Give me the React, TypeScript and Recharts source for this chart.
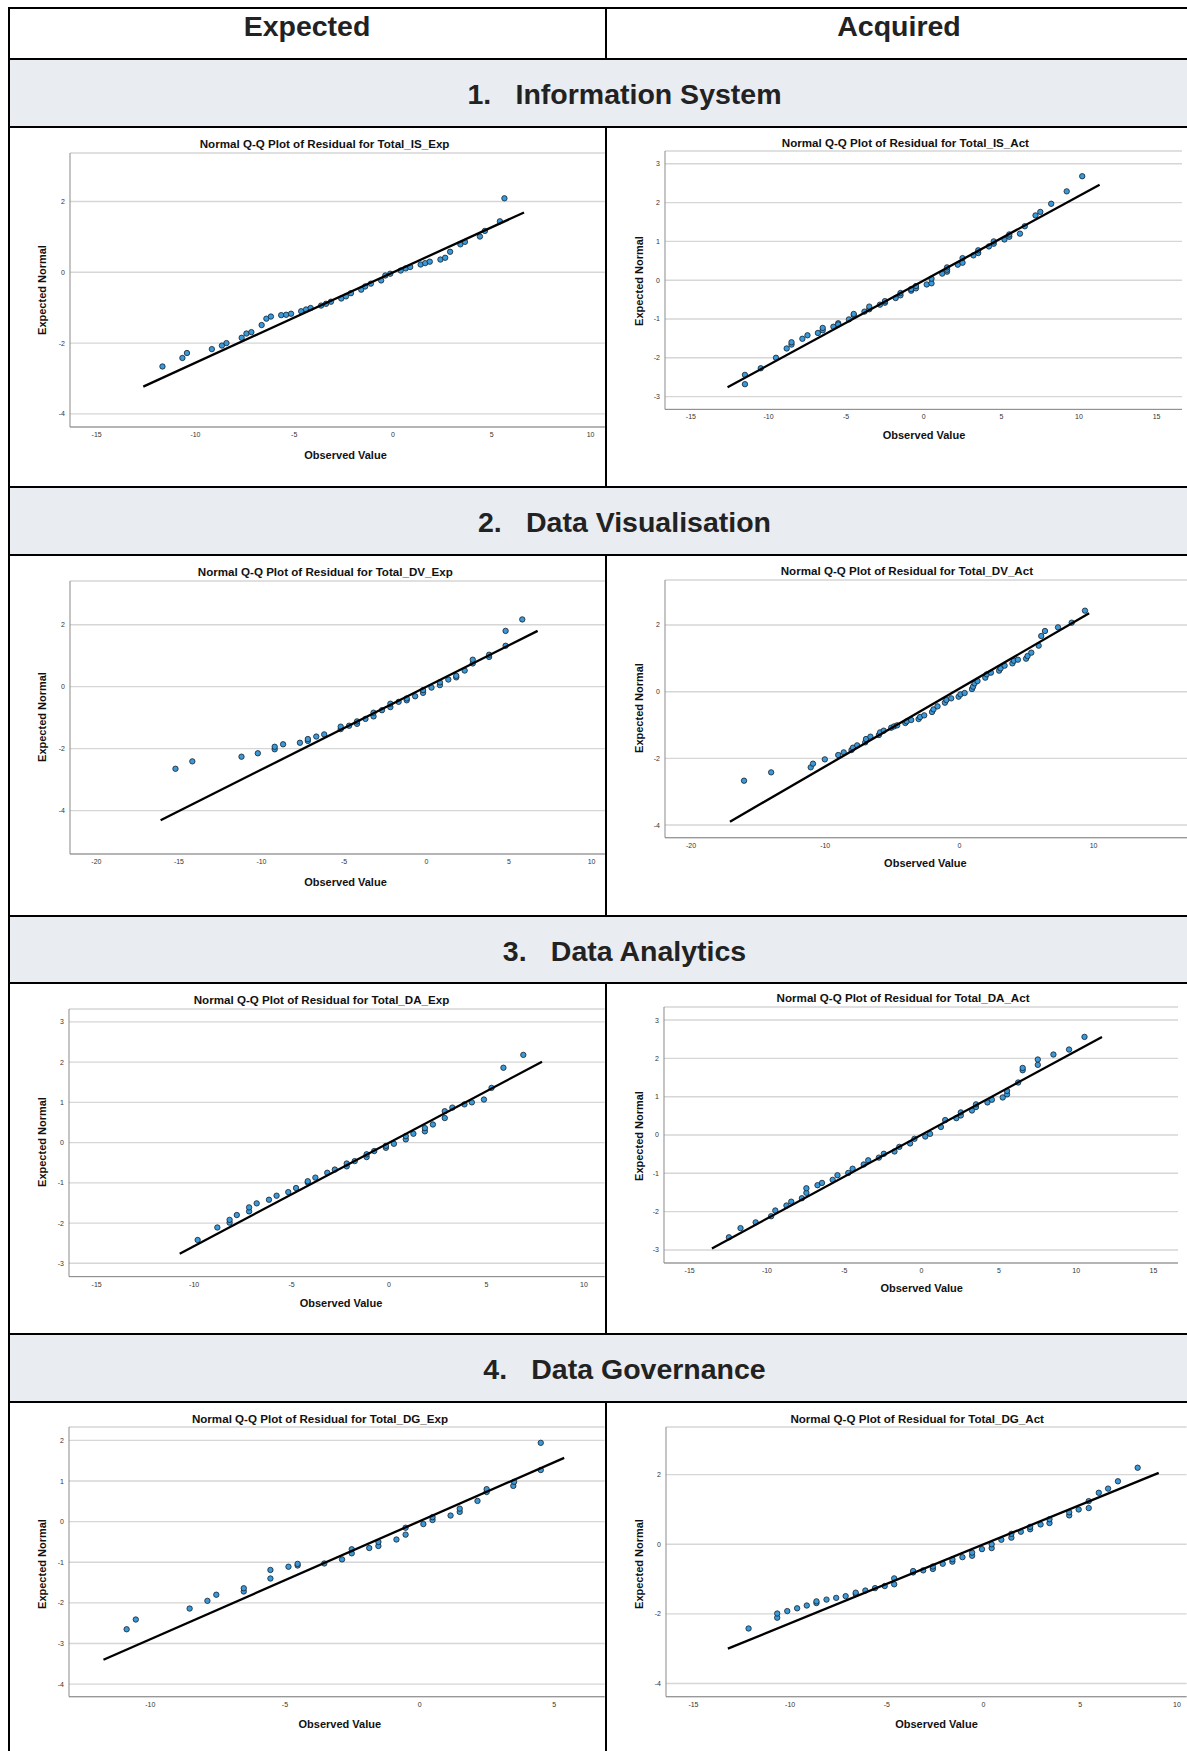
import React from "react";
import { ScatterChart, Scatter, XAxis, YAxis, CartesianGrid } from "recharts";

type Pt = [number, number];

const isExpPoints: Pt[] = [
  [-11.67, -2.66], [-10.66, -2.42], [-10.43, -2.28], [-9.17, -2.17], [-8.66, -2.07], [-8.43, -2.0],
  [-7.66, -1.85], [-7.42, -1.73], [-7.17, -1.69], [-6.65, -1.49], [-6.41, -1.31], [-6.18, -1.25],
  [-5.66, -1.21], [-5.41, -1.2], [-5.16, -1.17], [-4.65, -1.1], [-4.4, -1.05], [-4.17, -1.01],
  [-3.64, -0.94], [-3.39, -0.89], [-3.14, -0.83], [-2.62, -0.74], [-2.38, -0.68], [-2.13, -0.59],
  [-1.61, -0.49], [-1.41, -0.4], [-1.12, -0.32], [-0.6, -0.23], [-0.39, -0.09], [-0.14, -0.04],
  [0.39, 0.05], [0.64, 0.11], [0.87, 0.15], [1.4, 0.22], [1.63, 0.26], [1.86, 0.3],
  [2.4, 0.36], [2.64, 0.41], [2.89, 0.58], [3.41, 0.79], [3.64, 0.86], [4.4, 1.01],
  [4.65, 1.17], [5.41, 1.44], [5.64, 2.09],
];
const isExpFit: Pt[] = [[-12.64, -3.23], [6.63, 1.69]];

const isActPoints: Pt[] = [
  [-11.52, -2.44], [-11.52, -2.68], [-10.5, -2.27], [-9.52, -2.0], [-8.83, -1.76], [-8.52, -1.66],
  [-8.52, -1.6], [-7.82, -1.51], [-7.49, -1.42], [-6.82, -1.36], [-6.51, -1.29], [-6.51, -1.23],
  [-5.82, -1.2], [-5.51, -1.11], [-5.51, -1.14], [-4.82, -1.01], [-4.51, -0.9], [-4.51, -0.87],
  [-3.82, -0.81], [-3.51, -0.75], [-3.51, -0.68], [-2.82, -0.63], [-2.5, -0.58], [-2.5, -0.54],
  [-1.81, -0.46], [-1.5, -0.39], [-1.5, -0.33], [-0.81, -0.27], [-0.81, -0.23], [-0.5, -0.21],
  [-0.5, -0.15], [0.19, -0.11], [0.5, -0.08], [0.5, 0.04], [1.19, 0.17], [1.5, 0.22],
  [1.5, 0.27], [1.5, 0.33], [2.19, 0.4], [2.5, 0.45], [2.5, 0.57], [3.2, 0.64],
  [3.51, 0.7], [3.51, 0.77], [4.2, 0.87], [4.51, 0.94], [4.51, 1.0], [5.2, 1.05],
  [5.51, 1.12], [5.51, 1.18], [6.2, 1.2], [6.51, 1.39], [7.2, 1.67], [7.51, 1.76],
  [8.21, 1.97], [9.21, 2.29], [10.21, 2.68],
];
const isActFit: Pt[] = [[-12.64, -2.76], [11.33, 2.46]];

const dvExpPoints: Pt[] = [
  [-15.21, -2.65], [-14.19, -2.41], [-11.21, -2.26], [-10.22, -2.15], [-9.2, -2.02], [-9.2, -1.94],
  [-8.69, -1.86], [-7.67, -1.81], [-7.19, -1.75], [-7.19, -1.69], [-6.68, -1.61], [-6.2, -1.54],
  [-5.2, -1.37], [-5.2, -1.29], [-4.69, -1.26], [-4.21, -1.2], [-4.21, -1.12], [-3.7, -1.04],
  [-3.21, -0.96], [-3.21, -0.84], [-2.7, -0.76], [-2.19, -0.66], [-2.19, -0.55], [-1.69, -0.49],
  [-1.2, -0.44], [-1.2, -0.38], [-0.69, -0.31], [-0.21, -0.2], [-0.21, -0.11], [0.3, -0.03],
  [0.81, 0.05], [0.81, 0.14], [1.32, 0.23], [1.8, 0.3], [1.8, 0.35], [2.31, 0.52],
  [2.8, 0.75], [2.8, 0.87], [3.79, 0.96], [3.79, 1.03], [4.79, 1.32], [4.79, 1.8],
  [5.8, 2.17],
];
const dvExpFit: Pt[] = [[-16.11, -4.31], [6.73, 1.8]];

const dvActPoints: Pt[] = [
  [-16.05, -2.67], [-14.03, -2.42], [-11.08, -2.27], [-10.91, -2.16], [-10.03, -2.03], [-9.03, -1.9],
  [-8.62, -1.82], [-8.04, -1.75], [-7.93, -1.68], [-7.62, -1.61], [-7.02, -1.52], [-6.96, -1.42],
  [-6.63, -1.35], [-6.0, -1.3], [-5.91, -1.22], [-5.64, -1.17], [-5.08, -1.08], [-4.86, -1.04],
  [-4.64, -1.01], [-4.03, -0.94], [-3.92, -0.89], [-3.59, -0.85], [-3.04, -0.82], [-2.93, -0.76],
  [-2.62, -0.71], [-2.04, -0.61], [-1.93, -0.53], [-1.63, -0.44], [-1.08, -0.33], [-0.97, -0.25],
  [-0.61, -0.2], [-0.06, -0.15], [0.08, -0.08], [0.39, -0.04], [0.94, 0.08], [1.02, 0.15],
  [1.13, 0.25], [1.35, 0.32], [1.93, 0.42], [2.04, 0.52], [2.35, 0.57], [2.96, 0.63],
  [3.07, 0.7], [3.37, 0.78], [3.95, 0.85], [4.06, 0.93], [4.36, 0.96], [4.97, 0.99],
  [5.08, 1.07], [5.36, 1.17], [5.91, 1.38], [6.1, 1.67], [6.38, 1.82], [7.35, 1.93],
  [8.37, 2.07], [9.36, 2.43],
];
const dvActFit: Pt[] = [[-17.1, -3.9], [9.67, 2.35]];

const daExpPoints: Pt[] = [
  [-9.82, -2.42], [-8.81, -2.11], [-8.18, -1.99], [-8.18, -1.92], [-7.81, -1.8], [-7.18, -1.71],
  [-7.18, -1.61], [-6.79, -1.51], [-6.16, -1.42], [-5.77, -1.32], [-5.17, -1.23], [-4.77, -1.13],
  [-4.17, -0.99], [-4.17, -0.96], [-3.78, -0.87], [-3.17, -0.75], [-2.78, -0.67], [-2.17, -0.59],
  [-2.17, -0.52], [-1.76, -0.46], [-1.15, -0.36], [-1.15, -0.29], [-0.76, -0.21], [-0.16, -0.13],
  [-0.16, -0.08], [0.25, -0.03], [0.86, 0.08], [0.86, 0.16], [1.25, 0.22], [1.84, 0.28],
  [1.84, 0.36], [2.25, 0.45], [2.86, 0.61], [2.86, 0.78], [3.25, 0.87], [3.87, 0.95],
  [4.25, 1.0], [4.87, 1.07], [5.26, 1.36], [5.87, 1.86], [6.89, 2.18],
];
const daExpFit: Pt[] = [[-10.74, -2.76], [7.85, 2.01]];

const daActPoints: Pt[] = [
  [-12.46, -2.67], [-11.71, -2.43], [-10.73, -2.28], [-9.73, -2.12], [-9.46, -1.97], [-8.74, -1.84],
  [-8.43, -1.74], [-7.74, -1.65], [-7.45, -1.51], [-7.45, -1.39], [-6.73, -1.31], [-6.44, -1.25],
  [-5.75, -1.17], [-5.44, -1.05], [-4.74, -0.99], [-4.46, -0.88], [-3.74, -0.77], [-3.45, -0.66],
  [-2.76, -0.59], [-2.44, -0.49], [-1.75, -0.43], [-1.44, -0.31], [-0.74, -0.22], [-0.46, -0.1],
  [0.24, -0.04], [0.55, 0.03], [1.25, 0.21], [1.53, 0.39], [2.25, 0.44], [2.54, 0.51],
  [2.54, 0.59], [3.26, 0.64], [3.52, 0.73], [3.52, 0.8], [4.26, 0.85], [4.55, 0.92],
  [5.25, 0.98], [5.53, 1.06], [5.53, 1.15], [6.25, 1.37], [6.54, 1.69], [6.54, 1.75],
  [7.52, 1.83], [7.52, 1.97], [8.53, 2.1], [9.54, 2.23], [10.54, 2.56],
];
const daActFit: Pt[] = [[-13.56, -2.96], [11.67, 2.56]];

const dgExpPoints: Pt[] = [
  [-10.88, -2.65], [-10.54, -2.41], [-8.54, -2.14], [-7.88, -1.95], [-7.55, -1.8], [-6.53, -1.72],
  [-6.53, -1.64], [-5.54, -1.4], [-5.54, -1.19], [-4.87, -1.11], [-4.53, -1.08], [-4.53, -1.04],
  [-3.54, -1.03], [-2.88, -0.93], [-2.52, -0.78], [-2.52, -0.68], [-1.87, -0.65], [-1.53, -0.6],
  [-1.53, -0.5], [-0.86, -0.44], [-0.52, -0.32], [-0.52, -0.15], [0.14, -0.06], [0.48, 0.04],
  [0.48, 0.11], [1.15, 0.15], [1.49, 0.24], [1.49, 0.32], [2.15, 0.51], [2.49, 0.73],
  [2.49, 0.8], [3.48, 0.88], [3.51, 0.98], [4.5, 1.27], [4.5, 1.94],
];
const dgExpFit: Pt[] = [[-11.74, -3.4], [5.37, 1.57]];

const dgActPoints: Pt[] = [
  [-12.15, -2.42], [-10.67, -2.11], [-10.67, -1.99], [-10.15, -1.92], [-9.64, -1.84], [-9.14, -1.76],
  [-8.64, -1.69], [-8.64, -1.64], [-8.12, -1.59], [-7.62, -1.54], [-7.13, -1.49], [-6.61, -1.43],
  [-6.61, -1.39], [-6.11, -1.33], [-5.61, -1.26], [-5.11, -1.2], [-4.62, -1.15], [-4.62, -0.98],
  [-3.64, -0.81], [-3.64, -0.77], [-3.12, -0.75], [-2.62, -0.71], [-2.62, -0.64], [-2.11, -0.56],
  [-1.61, -0.5], [-1.61, -0.43], [-1.09, -0.37], [-0.59, -0.33], [-0.59, -0.24], [-0.08, -0.14],
  [0.42, -0.11], [0.42, 0.0], [0.92, 0.13], [1.44, 0.19], [1.44, 0.3], [1.93, 0.36],
  [2.41, 0.43], [2.41, 0.5], [2.95, 0.57], [3.41, 0.61], [3.41, 0.72], [4.43, 0.83],
  [4.43, 0.92], [4.92, 1.0], [5.44, 1.04], [5.44, 1.24], [5.96, 1.48], [6.44, 1.6],
  [6.95, 1.81], [7.97, 2.2],
];
const dgActFit: Pt[] = [[-13.22, -3.0], [9.06, 2.05]];

// tick labels
const xTicks15to10 = [-15, -10, -5, 0, 5, 10];
const xTicks15to15 = [-15, -10, -5, 0, 5, 10, 15];
const xTicks20by5 = [-20, -15, -10, -5, 0, 5, 10];
const xTicks20by10 = [-20, -10, 0, 10];
const xTicks10to5 = [-10, -5, 0, 5];
const yTicksBy2 = [-4, -2, 0, 2];
const yTicks3 = [-3, -2, -1, 0, 1, 2, 3];
const yTicks4to2 = [-4, -3, -2, -1, 0, 1, 2];

const headers = ["Expected", "Acquired"];
const sections = ["Information System", "Data Visualisation", "Data Analytics", "Data Governance"];

const FONT = "'Liberation Sans', Arial, Helvetica, sans-serif";

type Panel = {
  title: string;
  points: Pt[];
  fit: Pt[];
  xDomain: [number, number];
  yDomain: [number, number];
  xTicks: number[];
  yTicks: number[];
  box: [number, number, number, number]; // left, top, right, bottom of the plot area (px)
  titleAt: [number, number];
  yLabelAt: [number, number];
  xLabelAt: [number, number];
};

const panels: Panel[] = [
  {
    title: "Normal Q-Q Plot of Residual for Total_IS_Exp",
    points: isExpPoints, fit: isExpFit,
    xDomain: [-16.35, 10.72], yDomain: [-4.37, 3.37],
    xTicks: xTicks15to10, yTicks: yTicksBy2,
    box: [70.2, 153, 605, 427],
    titleAt: [324.6, 143.7], yLabelAt: [41.6, 289.7], xLabelAt: [345.5, 454.7],
  },
  {
    title: "Normal Q-Q Plot of Residual for Total_IS_Act",
    points: isActPoints, fit: isActFit,
    xDomain: [-16.67, 16.67], yDomain: [-3.33, 3.33],
    xTicks: xTicks15to15, yTicks: yTicks3,
    box: [664.5, 151.3, 1182, 409.7],
    titleAt: [905.4, 143], yLabelAt: [638.6, 280.7], xLabelAt: [924, 435.3],
  },
  {
    title: "Normal Q-Q Plot of Residual for Total_DV_Exp",
    points: dvExpPoints, fit: dvExpFit,
    xDomain: [-21.6, 10.8], yDomain: [-5.4, 3.41],
    xTicks: xTicks20by5, yTicks: yTicksBy2,
    box: [70.2, 581, 605, 854],
    titleAt: [325.3, 571.7], yLabelAt: [41.6, 716.7], xLabelAt: [345.5, 881.7],
  },
  {
    title: "Normal Q-Q Plot of Residual for Total_DV_Act",
    points: dvActPoints, fit: dvActFit,
    xDomain: [-21.94, 17.0], yDomain: [-4.38, 3.35],
    xTicks: xTicks20by10, yTicks: yTicksBy2,
    box: [664.5, 580, 1187, 837.7],
    titleAt: [906.9, 571], yLabelAt: [638.6, 708.3], xLabelAt: [925.4, 863.3],
  },
  {
    title: "Normal Q-Q Plot of Residual for Total_DA_Exp",
    points: daExpPoints, fit: daExpFit,
    xDomain: [-16.42, 11.06], yDomain: [-3.33, 3.32],
    xTicks: xTicks15to10, yTicks: yTicks3,
    box: [69.4, 1008.7, 605, 1276.3],
    titleAt: [321.5, 999.7], yLabelAt: [41.6, 1142.3], xLabelAt: [341, 1303],
  },
  {
    title: "Normal Q-Q Plot of Residual for Total_DA_Act",
    points: daActPoints, fit: daActFit,
    xDomain: [-16.66, 16.6], yDomain: [-3.34, 3.34],
    xTicks: xTicks15to15, yTicks: yTicks3,
    box: [664.2, 1007, 1178.4, 1263],
    titleAt: [903.1, 998.3], yLabelAt: [638.6, 1135.7], xLabelAt: [921.7, 1288.3],
  },
  {
    title: "Normal Q-Q Plot of Residual for Total_DG_Exp",
    points: dgExpPoints, fit: dgExpFit,
    xDomain: [-13.02, 6.87], yDomain: [-4.31, 2.33],
    xTicks: xTicks10to5, yTicks: yTicks4to2,
    box: [69.4, 1427, 605, 1696.7],
    titleAt: [320, 1418.7], yLabelAt: [41.6, 1563.7], xLabelAt: [339.8, 1724],
  },
  {
    title: "Normal Q-Q Plot of Residual for Total_DG_Act",
    points: dgActPoints, fit: dgActFit,
    xDomain: [-16.42, 10.5], yDomain: [-4.38, 3.37],
    xTicks: xTicks15to10, yTicks: yTicksBy2,
    box: [666.4, 1427, 1187, 1696.7],
    titleAt: [917.2, 1418.7], yLabelAt: [638.6, 1563.7], xLabelAt: [936.5, 1724],
  },
];

const Dot = (props: any) => (
  <circle cx={props.cx} cy={props.cy} r={2.7} fill="#3a9ad9" stroke="#15202b" strokeWidth={0.8} />
);
const NoDot = () => <g />;

const tickStyle = { fontSize: 7, fill: "#333", fontFamily: FONT };

function Label({ text, at, size, rotate }: { text: string; at: [number, number]; size: number; rotate?: boolean }) {
  return (
    <div
      style={{
        position: "absolute",
        left: at[0] - 200,
        top: at[1] - 7,
        width: 400,
        height: 14,
        lineHeight: "14px",
        textAlign: "center",
        fontFamily: FONT,
        fontWeight: 700,
        fontSize: size,
        color: "#111",
        whiteSpace: "nowrap",
        transform: rotate ? "rotate(-90deg)" : undefined,
      }}
    >
      {text}
    </div>
  );
}

function QQPanel({ p }: { p: Panel }) {
  const YW = 30;
  const XH = 22;
  const PT = 6;
  const [l, t, r, b] = p.box;
  const w = r - l + YW;
  const h = b - t + PT + XH;
  const pts = p.points.map(([x, y]) => ({ x, y }));
  const fit = p.fit.map(([x, y]) => ({ x, y }));
  return (
    <>
      <div style={{ position: "absolute", left: l - YW, top: t - PT }}>
        <ScatterChart width={w} height={h} margin={{ top: PT, right: 0, bottom: 0, left: 0 }}>
          <CartesianGrid vertical={false} stroke="#d6d6d6" strokeWidth={1.4} />
          <XAxis
            type="number"
            dataKey="x"
            domain={p.xDomain}
            ticks={p.xTicks}
            allowDataOverflow
            interval={0}
            height={XH}
            tickLine={false}
            tickSize={0}
            tickMargin={5}
            axisLine={{ stroke: "#8a8a8a" }}
            tick={tickStyle}
          />
          <YAxis
            type="number"
            dataKey="y"
            domain={p.yDomain}
            ticks={p.yTicks}
            allowDataOverflow
            interval={0}
            width={YW}
            tickLine={false}
            tickSize={0}
            tickMargin={5}
            axisLine={{ stroke: "#8a8a8a" }}
            tick={tickStyle}
          />
          <Scatter data={pts} shape={Dot} isAnimationActive={false} />
          <Scatter
            data={fit}
            line={{ stroke: "#000", strokeWidth: 2.3 }}
            shape={NoDot}
            isAnimationActive={false}
          />
        </ScatterChart>
      </div>
      <Label text={p.title} at={p.titleAt} size={11.6} />
      <Label text="Expected Normal" at={p.yLabelAt} size={11} rotate />
      <Label text="Observed Value" at={p.xLabelAt} size={11} />
    </>
  );
}

// table geometry
const hLines = [7, 58, 126, 486, 554, 915, 982, 1333, 1401];
const bands: [number, number][] = [[60, 126], [488, 554], [917, 982], [1335, 1401]];
const dividers: [number, number][] = [[7, 60], [126, 488], [554, 917], [982, 1335], [1401, 1751]];
const headerCenters = [307, 899];

export default function App() {
  return (
    <div
      style={{
        position: "fixed",
        left: 0,
        top: 0,
        width: 1187,
        height: 1751,
        overflow: "hidden",
        background: "#fff",
      }}
    >
      {bands.map(([a, bb], i) => (
        <div key={"b" + i} style={{ position: "absolute", left: 10, top: a, width: 1177, height: bb - a, background: "#e9ecf1" }} />
      ))}

      {headers.map((t, i) => (
        <div
          key={t}
          style={{
            position: "absolute",
            left: headerCenters[i] - 200,
            width: 400,
            top: 11.9,
            lineHeight: "28.5px",
            fontSize: 28.5,
            fontWeight: 700,
            fontFamily: FONT,
            color: "#222",
            textAlign: "center",
          }}
        >
          {t}
        </div>
      ))}

      {sections.map((t, i) => (
        <div
          key={t}
          style={{
            position: "absolute",
            left: 8,
            width: 1233,
            top: hLines[[1, 3, 5, 7][i]] + 1 + 44.7 - 24.1,
            lineHeight: "28.5px",
            fontSize: 28.5,
            fontWeight: 700,
            fontFamily: FONT,
            color: "#222",
            textAlign: "center",
            whiteSpace: "nowrap",
          }}
        >
          <span style={{ display: "inline-block", width: 48, textAlign: "left" }}>{i + 1}.</span>
          {t}
        </div>
      ))}

      {panels.map((p) => (
        <QQPanel key={p.title} p={p} />
      ))}

      {hLines.map((y) => (
        <div key={"h" + y} style={{ position: "absolute", left: 8, top: y, width: 1179, height: 2, background: "#000" }} />
      ))}
      <div style={{ position: "absolute", left: 8, top: 7, width: 2, height: 1744, background: "#000" }} />
      {dividers.map(([a, bb]) => (
        <div key={"d" + a} style={{ position: "absolute", left: 605, top: a, width: 2, height: bb - a, background: "#000" }} />
      ))}
    </div>
  );
}
